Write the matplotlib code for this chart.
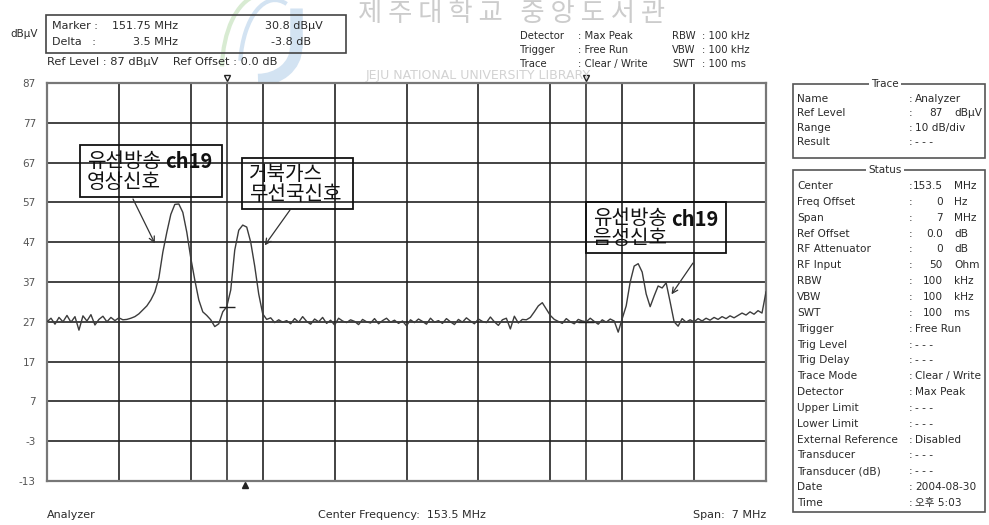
import numpy as np
import matplotlib.pyplot as plt
from matplotlib.patches import Rectangle, Arc

plt.rcParams["axes.unicode_minus"] = False

# 스펙트럼 분석기 설정 (화면에서 읽은 값)
center_mhz = 153.5
span_mhz = 7.0
ref_level = 87
range_db = 100
y_ticks = [87, 77, 67, 57, 47, 37, 27, 17, 7, -3, -13]

marker_freq = 151.75
marker_level = 30.8
delta_freq = 3.5
delta_level = -3.8

# 측정 트레이스 (dBuV), 150 ~ 157 MHz 구간에서 읽은 값
level_dbuv = [
    27.0, 27.9, 26.4, 28.1, 27.0, 28.6, 26.9, 28.3, 24.9, 28.5,
    27.2, 28.8, 26.2, 27.6, 28.4, 27.0, 28.1, 27.3, 28.0, 27.5, 27.6,
    27.9, 28.3, 29.0, 30.0, 31.0, 32.5, 34.5, 38.0, 44.5, 49.5,
    54.0, 56.5, 56.6, 54.5, 49.5, 43.0, 37.5, 32.5, 29.5, 28.6,
    27.5, 25.8, 26.5,
    29.5, 30.8, 35.0, 45.0, 50.0, 51.3, 50.8, 47.0, 41.0, 34.0,
    29.0, 27.6, 28.0, 26.8, 27.5, 26.9,
    27.3, 26.5, 27.8, 26.9, 28.3, 27.1, 26.4, 27.7, 27.0, 28.1,
    26.6, 27.4, 26.2, 27.9, 27.2, 26.8, 27.5, 27.1, 26.3, 27.6,
    27.0, 26.7, 27.8, 26.5, 27.3, 27.9, 26.9, 27.4, 26.6, 27.2,
    26.0, 27.5, 26.8, 27.7, 27.1, 26.4, 27.9, 26.9, 27.3, 26.6,
    27.8, 27.0, 26.3, 27.6, 26.9, 28.0, 27.2, 26.5, 27.7, 27.1,
    26.8, 28.2, 27.0, 26.1, 27.5, 27.9, 25.2, 28.4, 26.7, 27.6,
    27.5, 28.1, 29.5, 31.0, 31.8, 30.2, 28.6, 27.6,
    27.1, 26.6, 27.8, 27.0, 26.5, 27.6, 27.2, 27.0, 27.9, 27.1,
    26.4, 27.5, 26.9, 27.7, 27.2, 24.4, 27.8,
    31.0, 37.0, 41.0, 41.6, 39.5, 34.0, 30.8, 33.5, 36.0, 35.5,
    36.8, 32.0, 27.0, 25.9,
    27.8, 26.9, 27.5, 27.0, 27.8, 27.2, 27.9, 27.4, 28.1, 27.6,
    28.3, 27.8, 28.5, 28.0, 28.6, 29.2, 28.7, 29.5, 28.9, 29.8,
    29.2, 34.5,
]

trace_rows = [
    ("Name", "Analyzer", ""),
    ("Ref Level", "87", "dBµV"),
    ("Range", "10 dB/div", ""),
    ("Result", "- - -", ""),
]
status_rows = [
    ("Center", "153.5", "MHz"),
    ("Freq Offset", "0", "Hz"),
    ("Span", "7", "MHz"),
    ("Ref Offset", "0.0", "dB"),
    ("RF Attenuator", "0", "dB"),
    ("RF Input", "50", "Ohm"),
    ("RBW", "100", "kHz"),
    ("VBW", "100", "kHz"),
    ("SWT", "100", "ms"),
    ("Trigger", "Free Run", ""),
    ("Trig Level", "- - -", ""),
    ("Trig Delay", "- - -", ""),
    ("Trace Mode", "Clear / Write", ""),
    ("Detector", "Max Peak", ""),
    ("Upper Limit", "- - -", ""),
    ("Lower Limit", "- - -", ""),
    ("External Reference", "Disabled", ""),
    ("Transducer", "- - -", ""),
    ("Transducer (dB)", "- - -", ""),
    ("Date", "2004-08-30", ""),
    ("Time", "오후 5:03", ""),
]

KR = ["Noto Sans CJK KR", "DejaVu Sans"]
LAT = ["DejaVu Sans", "Noto Sans CJK KR"]
W, H = 989, 525


def fx(x):
    return x / W


def fy(y):
    return 1 - y / H


fig = plt.figure(figsize=(W / 100, H / 100), dpi=100)
fig.patch.set_facecolor("white")

# 워터마크 (도서관 로고와 글자)
bg = fig.add_axes([0, 0, 1, 1], zorder=-1)
bg.set_xlim(0, W)
bg.set_ylim(0, H)
bg.axis("off")
bg.add_patch(Arc((258, H - 48), 76, 64, theta1=270, theta2=360, lw=9,
                 color="#d3e3f2"))
bg.plot([296, 296], [H - 48, H - 8], lw=9, color="#d3e3f2", solid_capstyle="butt")
bg.add_patch(Arc((262, H - 70), 80, 150, theta1=95, theta2=175, lw=3,
                 color="#d8ebd2"))
bg.add_patch(Arc((275, H - 70), 70, 140, theta1=80, theta2=165, lw=3,
                 color="#d3e3f2"))

fig.text(fx(512), fy(21), "제 주 대 학 교   중 앙 도 서 관", family=KR, fontsize=19,
         color="#cccccc", ha="center", va="baseline", zorder=0)
fig.text(fx(478), fy(76), "JEJU NATIONAL UNIVERSITY LIBRARY", fontsize=9,
         color="#d2d2d2", ha="center", va="center", zorder=0)

ax = fig.add_axes([fx(47), fy(481), (766 - 47) / W, (481 - 83) / H])
f0 = center_mhz - span_mhz / 2
f1 = center_mhz + span_mhz / 2
freqs = np.linspace(f0, f1, len(level_dbuv))

ax.set_xlim(f0, f1)
ax.set_ylim(ref_level - range_db, ref_level)
ax.set_xticks(np.linspace(f0, f1, 11))
ax.set_yticks(y_ticks)
ax.set_xticklabels([])
ax.tick_params(length=0, labelsize=7.5, labelcolor="#555555", pad=8)
ax.grid(True, color="#222222", lw=1.2)
for s in ax.spines.values():
    s.set_color("#777777")
    s.set_linewidth(1.6)

ax.plot(freqs, level_dbuv, color="#3c3c3c", lw=1.0, zorder=3)

# 마커
m2 = marker_freq + delta_freq
for f in (marker_freq, m2):
    ax.axvline(f, color="#222222", lw=1.1, zorder=2)
    ax.plot(f, ref_level + 1.2, marker="v", ms=5, mfc="white", mec="#222222",
            clip_on=False, zorder=4)
ax.plot(marker_freq, marker_level, marker="_", ms=12, color="#222222", zorder=4)
ax.plot(m2, marker_level + delta_level, marker="_", ms=12, color="#222222", zorder=4)
ax.plot(151.93, ref_level - range_db - 1.0, marker="^", ms=5, color="#222222",
        clip_on=False, zorder=4)

# 상단 정보
tc = "#2a2a2a"
fig.text(fx(10), fy(34), "dBµV", fontsize=7.5, color=tc, va="center")
fig.add_artist(Rectangle((fx(46), fy(53)), fx(300), 38 / H, transform=fig.transFigure,
                         fill=False, ec="#444444", lw=1.2))
fig.text(fx(52), fy(26), "Marker :", fontsize=8, color=tc, va="center")
fig.text(fx(178), fy(26), f"{marker_freq:.2f} MHz", fontsize=8, color=tc, va="center", ha="right")
fig.text(fx(323), fy(26), f"{marker_level:.1f} dBµV", fontsize=8, color=tc, va="center", ha="right")
fig.text(fx(52), fy(42), "Delta   :", fontsize=8, color=tc, va="center")
fig.text(fx(178), fy(42), f"{delta_freq:.1f} MHz", fontsize=8, color=tc, va="center", ha="right")
fig.text(fx(311), fy(42), f"{delta_level:.1f} dB", fontsize=8, color=tc, va="center", ha="right")
fig.text(fx(47), fy(62), f"Ref Level : {ref_level} dBµV    Ref Offset : 0.0 dB",
         fontsize=8.2, color=tc, va="center")

for i, (k, v) in enumerate([("Detector", "Max Peak"), ("Trigger", "Free Run"),
                            ("Trace", "Clear / Write")]):
    fig.text(fx(520), fy(36 + i * 14), k, fontsize=7.3, color=tc, va="center")
    fig.text(fx(578), fy(36 + i * 14), ": " + v, fontsize=7.3, color=tc, va="center")
for i, (k, v) in enumerate([("RBW", "100 kHz"), ("VBW", "100 kHz"), ("SWT", "100 ms")]):
    fig.text(fx(672), fy(36 + i * 14), k, fontsize=7.3, color=tc, va="center")
    fig.text(fx(702), fy(36 + i * 14), ": " + v, fontsize=7.3, color=tc, va="center")

# 하단 정보
fig.text(fx(47), fy(515), "Analyzer", fontsize=8, color=tc, va="center")
fig.text(fx(318), fy(515), f"Center Frequency:  {center_mhz} MHz", fontsize=8, color=tc, va="center")
fig.text(fx(766), fy(515), f"Span:  {span_mhz:g} MHz", fontsize=8, color=tc, va="center", ha="right")

# 주석 상자
notes = [
    ((80, 145, 222, 197), ("유선방송", "ch19", "영상신호"), (151.05, 46.7), (133, 199)),
    ((242, 158, 353, 209), ("거북가스", "", "무선국신호"), (152.12, 46.2), (290, 210)),
    ((586, 202, 726, 253), ("유선방송", "ch19", "음성신호"), (156.08, 33.9), (693, 263)),
]
for (x0, y0, x1, y1), (l1, bold, l2), tgt, src in notes:
    fig.add_artist(Rectangle((fx(x0), fy(y1)), fx(x1 - x0), (y1 - y0) / H,
                             transform=fig.transFigure, fill=False,
                             ec="#111111", lw=1.3, zorder=5))
    fig.text(fx(x0 + 7), fy(y0 + 17), l1, family=KR, fontsize=14.5, color="#111111",
             weight="medium", va="center", zorder=6)
    if bold:
        fig.text(fx(x0 + 85), fy(y0 + 17), bold, family=KR, fontsize=14.5,
                 weight="bold", color="#111111", va="center", zorder=6)
    fig.text(fx(x0 + 7), fy(y0 + 37), l2, family=KR, fontsize=14.5, color="#111111",
             weight="medium", va="center", zorder=6)
    ax.annotate("", xy=tgt, xycoords="data", xytext=(src[0], H - src[1]),
                textcoords="figure pixels",
                arrowprops=dict(arrowstyle="->", lw=0.9, color="#333333",
                                shrinkA=0, shrinkB=0), zorder=6)


# 오른쪽 상태 패널
def panel(top, bottom, title, rows, y_first, step):
    fig.add_artist(Rectangle((fx(793), fy(bottom)), fx(985 - 793), (bottom - top) / H,
                             transform=fig.transFigure, fill=False, ec="#555555", lw=1.2))
    fig.text(fx(885), fy(top), title, fontsize=7.5, color=tc, ha="center", va="center",
             bbox=dict(fc="white", ec="none", pad=1.5))
    for i, (k, v, u) in enumerate(rows):
        y = fy(y_first + i * step)
        fig.text(fx(797), y, k, fontsize=7.6, color=tc, va="center")
        fig.text(fx(909), y, ":", fontsize=7.6, color=tc, va="center")
        if u:
            fig.text(fx(943), y, v, fontsize=7.6, color=tc, va="center", ha="right")
            fig.text(fx(954), y, u, fontsize=7.6, color=tc, va="center")
        else:
            fig.text(fx(915), y, v, family=LAT, fontsize=7.6, color=tc, va="center")


panel(84, 158, "Trace", trace_rows, 99, 14.5)
panel(170, 512, "Status", status_rows, 186, 15.85)

fig.savefig("out.png", dpi=100)
